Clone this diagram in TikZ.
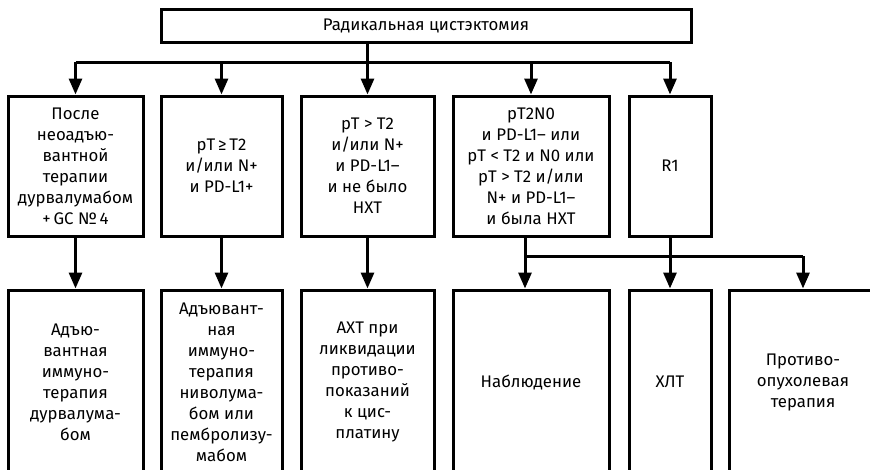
\documentclass[tikz,border=0pt]{standalone}
\usepackage{fontspec}
\setmainfont{Fira Sans}
\usetikzlibrary{arrows.meta}
\begin{document}
\begin{tikzpicture}[x=1pt,y=-1pt,
  box/.style={draw, line width=3pt, inner sep=0pt, align=center,
    font=\fontsize{16.8}{21}\selectfont},
  conn/.style={line width=3pt},
  arr/.style={conn, -{Triangle[length=16pt,width=13pt]}}]
\useasboundingbox (0,0) rectangle (870,469);
\clip (0,0) rectangle (870,469);
\node[box, minimum width=530pt, minimum height=33pt] (top) at (426,25.5) {Радикальная цистэктомия};
% row 1
\node[box, minimum width=135pt, minimum height=140pt] (b1) at (75.5,166) {После\\неоадъю-\\вантной\\терапии\\дурвалумабом\\+\,GC №\,4};
\node[box, minimum width=121pt, minimum height=140pt] (b2) at (221.5,166) {pT\,≥\,T2\\и/или N+\\и PD-L1+};
\node[box, minimum width=133pt, minimum height=140pt] (b3) at (367.5,166) {pT > T2\\и/или N+\\и PD-L1–\\и не было\\НХТ};
\node[box, minimum width=156pt, minimum height=140pt] (b4) at (531,166) {pT2N0\\и PD-L1– или\\pT < T2 и N0 или\\pT > T2 и/или\\N+ и PD-L1–\\и была НХТ};
\node[box, minimum width=82pt, minimum height=140pt] (b5) at (670,166) {R1};
% row 2
\node[box, minimum width=135pt, minimum height=184pt] (c1) at (75.5,382) {Адъю-\\вантная\\иммуно-\\терапия\\дурвалума-\\бом};
\node[box, minimum width=121pt, minimum height=184pt] (c2) at (221.5,382) {Адъювант-\\ная\\иммуно-\\терапия\\ниволума-\\бом или\\пембролизу-\\мабом};
\node[box, minimum width=133pt, minimum height=184pt] (c3) at (367.5,382) {АХТ при\\ликвидации\\противо-\\показаний\\к цис-\\платину};
\node[box, minimum width=156pt, minimum height=184pt] (c4) at (531,382) {Наблюдение};
\node[box, minimum width=82pt, minimum height=184pt] (c5) at (670,382) {ХЛТ};
\node[box, minimum width=148pt, minimum height=184pt] (c6) at (803,382) {Противо-\\опухолевая\\терапия};
% connectors top
\coordinate (bus) at (0,62);
\draw[conn] (top.south -| b3.north) -- (b3.north |- bus);
\draw[conn] (b1.north |- bus) -- (b5.north |- bus);
\foreach \b in {b1,b2,b3,b4,b5} \draw[arr] (\b.north |- bus) -- (\b.north);
% row1 -> row2
\foreach \b/\c in {b1/c1,b2/c2,b3/c3} \draw[arr] (\b.south) -- (\c.north);
\coordinate (bus2) at (0,256);
\coordinate (s4) at ([xshift=-6pt]b4.south);
\draw[conn] (s4) -- (s4 |- bus2);
\draw[conn] (b5.south) -- (b5.south |- bus2);
\draw[conn] (s4 |- bus2) -- (c6.north |- bus2);
\draw[arr] (s4 |- bus2) -- (s4 |- c4.north);
\foreach \c in {c5,c6} \draw[arr] (\c.north |- bus2) -- (\c.north);
\end{tikzpicture}
\end{document}
